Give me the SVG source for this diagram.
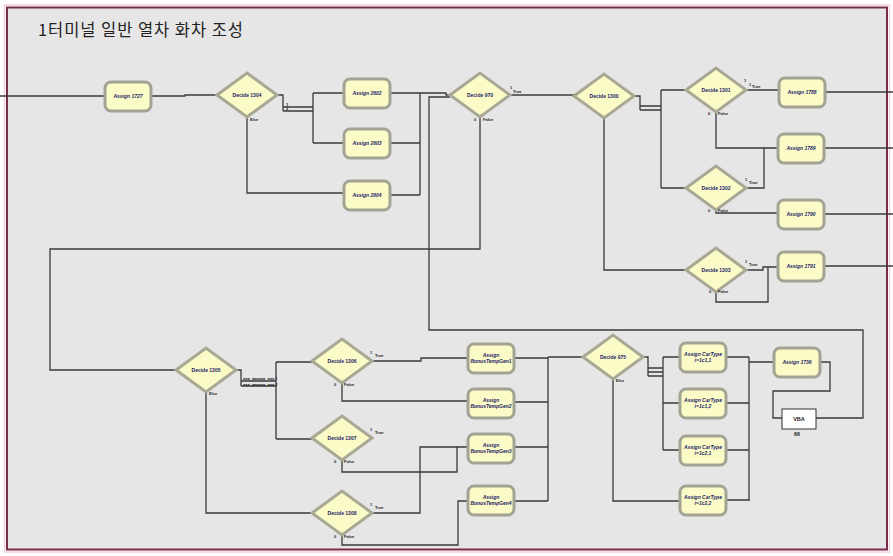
<svg xmlns="http://www.w3.org/2000/svg" width="893" height="556" viewBox="0 0 893 556">
<style>
.frame{fill:#e6e6e6;stroke:#7a2c4c;stroke-width:2}
.frame2{fill:none;stroke:#f2cfdc;stroke-width:1.5}
.title{font-family:"Noto Sans CJK KR","Noto Sans",sans-serif;font-size:16.5px;fill:#222}
.c{fill:none;stroke:#3a3a3a;stroke-width:1.3}
.as{fill:#fbfbc8;stroke:#a3a394;stroke-width:3}
.dc{fill:#fbfbc8;stroke:#a8a894;stroke-width:3;stroke-linejoin:miter}
.lbl{font-family:"Liberation Sans",Arial,sans-serif;font-size:5px;font-weight:bold;fill:#1c1c66;text-anchor:middle}
.ita{font-style:italic}
.sm{font-family:"Liberation Sans",Arial,sans-serif;font-size:4px;font-weight:bold;fill:#222}
.vba{fill:#ffffff;stroke:#333;stroke-width:1}
.vt{font-family:"Liberation Sans",Arial,sans-serif;font-size:5.5px;font-weight:bold;fill:#222;text-anchor:middle}
</style>
<rect x="0" y="0" width="893" height="556" fill="#ffffff"/>
<rect class="frame2" x="4.5" y="5" width="885" height="547"/>
<rect class="frame" x="7" y="7.5" width="880" height="542"/>
<text class="title" x="38" y="36" textLength="205" lengthAdjust="spacing">1터미널 일반 열차 화차 조성</text>

<g id="connectors">
<path class="c" d="M0 96 H105"/>
<path class="c" d="M151 96 H185 V95 H217"/>
<path class="c" d="M277 95 H283 V111 M283 107 H313 M283 111 H313 M313 93 V143 M313 93 H344 M313 143 H344"/>
<path class="c" d="M247 117 V193 H344"/>
<path class="c" d="M390 93 H420 M390 143 H420 M390 195 H420 M420 93 V195 M420 93 H446 V95 H450"/>
<path class="c" d="M510 95 H574"/>
<path class="c" d="M480 117 V249 H50 V370 H176"/>
<path class="c" d="M634 96 H640 V110 M640 106 H661 M640 110 H661 M661 90 V188 M661 90 H686 M661 188 H686"/>
<path class="c" d="M604 118 V270 H686"/>
<path class="c" d="M746 90 H779"/>
<path class="c" d="M716 112 V148 H778"/>
<path class="c" d="M746 188 H764 V148"/>
<path class="c" d="M716 210 V213 H778"/>
<path class="c" d="M746 270 H763 V267 H778"/>
<path class="c" d="M716 292 V302 H768 V267"/>
<path class="c" d="M825 92 H893 M824 148 H893 M824 214 H893 M824 266 H893"/>
<path class="c" d="M236 370 H241 V386 M241 381 H276 M241 386 H276 M276 362 V439 M276 362 H312 M276 439 H312"/>
<path class="c" d="M206 392 V513 H312"/>
<path class="c" d="M372 361 H421 V358 H468"/>
<path class="c" d="M342 383 V401 H468"/>
<path class="c" d="M342 460 V472 H457 V447 H468"/>
<path class="c" d="M372 513 H420 V447 H457"/>
<path class="c" d="M342 535 V545 H458 V501 H468"/>
<path class="c" d="M514 358 H548 M514 402 H548 M514 447 H548 M514 501 H548 M548 357 V501 M548 357 H583"/>
<path class="c" d="M643 357 H648 V376 M648 368 H663 M648 372 H663 M648 376 H663 M663 357 V450 M663 357 H680 M663 403 H680 M663 450 H680"/>
<path class="c" d="M613 379 V501 H680"/>
<path class="c" d="M726 357 H749 M726 403 H749 M726 450 H749 M726 500 H749 M749 357 V501 M749 362 H774"/>
<path class="c" d="M820 362 H830 V391 H773 V418 H782"/>
<path class="c" d="M816 418 H863 V330 H429 V97 H450"/>
</g>

<g id="Assign1727"><rect class="as" x="105" y="82" width="46" height="29" rx="6"/><text class="lbl ita" x="128" y="98">Assign 1727</text></g>
<g id="Decide1304"><polygon class="dc" points="217,95 247,73 277,95 247,117"/><text class="lbl" x="247" y="97">Decide 1304</text><text class="sm" x="286" y="106">1</text><text class="sm" x="286" y="110">2</text><text class="sm" x="250" y="121">Else</text></g>
<g id="Assign2602"><rect class="as" x="344" y="79" width="46" height="29" rx="6"/><text class="lbl ita" x="367" y="95">Assign 2602</text></g>
<g id="Assign2603"><rect class="as" x="344" y="129" width="46" height="29" rx="6"/><text class="lbl ita" x="367" y="145">Assign 2603</text></g>
<g id="Assign2604"><rect class="as" x="344" y="181" width="46" height="29" rx="6"/><text class="lbl ita" x="367" y="197">Assign 2604</text></g>
<g id="Decide970"><polygon class="dc" points="450,95 480,73 510,95 480,117"/><text class="lbl" x="480" y="97">Decide 970</text><text class="sm" x="510" y="89">1</text><text class="sm" x="513" y="93">True</text><text class="sm" x="474" y="121">0</text><text class="sm" x="483" y="121">False</text></g>
<g id="Decide1300"><polygon class="dc" points="574,96 604,74 634,96 604,118"/><text class="lbl" x="604" y="98">Decide 1300</text></g>
<g id="Decide1301"><polygon class="dc" points="686,90 716,68 746,90 716,112"/><text class="lbl" x="716" y="92">Decide 1301</text><text class="sm" x="744" y="82">1</text><text class="sm" x="749" y="86">1</text><text class="sm" x="752" y="88">True</text><text class="sm" x="708" y="115">0</text><text class="sm" x="718" y="115">False</text></g>
<g id="Assign1788"><rect class="as" x="779" y="78" width="46" height="29" rx="6"/><text class="lbl ita" x="802" y="94">Assign 1788</text></g>
<g id="Assign1789"><rect class="as" x="778" y="134" width="46" height="29" rx="6"/><text class="lbl ita" x="801" y="150">Assign 1789</text></g>
<g id="Decide1302"><polygon class="dc" points="686,188 716,166 746,188 716,210"/><text class="lbl" x="716" y="190">Decide 1302</text><text class="sm" x="745" y="181">1</text><text class="sm" x="749" y="184">True</text><text class="sm" x="708" y="212">0</text><text class="sm" x="718" y="212">False</text></g>
<g id="Assign1790"><rect class="as" x="778" y="200" width="46" height="29" rx="6"/><text class="lbl ita" x="801" y="216">Assign 1790</text></g>
<g id="Decide1303"><polygon class="dc" points="686,270 716,248 746,270 716,292"/><text class="lbl" x="716" y="272">Decide 1303</text><text class="sm" x="745" y="263">1</text><text class="sm" x="749" y="266">True</text><text class="sm" x="709" y="293">0</text><text class="sm" x="718" y="293">False</text></g>
<g id="Assign1791"><rect class="as" x="778" y="252" width="46" height="29" rx="6"/><text class="lbl ita" x="801" y="268">Assign 1791</text></g>
<g id="Decide1305"><polygon class="dc" points="176,370 206,348 236,370 206,392"/><text class="lbl" x="206" y="372">Decide 1305</text><text class="sm" x="243" y="380">aaa_aaaaaa_aaa 1</text><text class="sm" x="243" y="386">aaa_aaaaaa_aaa 2</text><text class="sm" x="209" y="395">Else</text></g>
<g id="Decide1306"><polygon class="dc" points="312,361 342,339 372,361 342,383"/><text class="lbl" x="342" y="363">Decide 1306</text><text class="sm" x="370" y="354">1</text><text class="sm" x="375" y="357">True</text><text class="sm" x="334" y="386">0</text><text class="sm" x="344" y="386">False</text></g>
<g id="Decide1307"><polygon class="dc" points="312,438 342,416 372,438 342,460"/><text class="lbl" x="342" y="440">Decide 1307</text><text class="sm" x="370" y="431">1</text><text class="sm" x="375" y="434">True</text><text class="sm" x="334" y="463">0</text><text class="sm" x="344" y="463">False</text></g>
<g id="Decide1308"><polygon class="dc" points="312,513 342,491 372,513 342,535"/><text class="lbl" x="342" y="515">Decide 1308</text><text class="sm" x="370" y="506">1</text><text class="sm" x="375" y="509">True</text><text class="sm" x="334" y="538">0</text><text class="sm" x="344" y="538">False</text></g>
<g id="AssignBonusTempGen1"><rect class="as" x="468" y="344" width="46" height="29" rx="6"/><text class="lbl ita" x="491" y="357">Assign</text><text class="lbl ita" x="491" y="363">BonusTempGen1</text></g>
<g id="AssignBonusTempGen2"><rect class="as" x="468" y="389" width="46" height="29" rx="6"/><text class="lbl ita" x="491" y="402">Assign</text><text class="lbl ita" x="491" y="408">BonusTempGen2</text></g>
<g id="AssignBonusTempGen3"><rect class="as" x="468" y="434" width="46" height="29" rx="6"/><text class="lbl ita" x="491" y="447">Assign</text><text class="lbl ita" x="491" y="453">BonusTempGen3</text></g>
<g id="AssignBonusTempGen4"><rect class="as" x="468" y="486" width="46" height="29" rx="6"/><text class="lbl ita" x="491" y="499">Assign</text><text class="lbl ita" x="491" y="505">BonusTempGen4</text></g>
<g id="Decide975"><polygon class="dc" points="583,357 613,335 643,357 613,379"/><text class="lbl" x="613" y="359">Decide 975</text><text class="sm" x="616" y="382">Else</text></g>
<g id="AssignCarType11"><rect class="as" x="680" y="343" width="46" height="29" rx="6"/><text class="lbl ita" x="703" y="356">Assign CarType</text><text class="lbl ita" x="703" y="362">i=1c1,1</text></g>
<g id="AssignCarType12"><rect class="as" x="680" y="389" width="46" height="29" rx="6"/><text class="lbl ita" x="703" y="402">Assign CarType</text><text class="lbl ita" x="703" y="408">i=1c1,2</text></g>
<g id="AssignCarType21"><rect class="as" x="680" y="436" width="46" height="29" rx="6"/><text class="lbl ita" x="703" y="449">Assign CarType</text><text class="lbl ita" x="703" y="455">i=1c2,1</text></g>
<g id="AssignCarType22"><rect class="as" x="680" y="486" width="46" height="29" rx="6"/><text class="lbl ita" x="703" y="499">Assign CarType</text><text class="lbl ita" x="703" y="505">i=1c2,2</text></g>
<g id="Assign1736"><rect class="as" x="774" y="348" width="46" height="29" rx="6"/><text class="lbl ita" x="797" y="364">Assign 1736</text></g>
<g id="VBA66"><rect class="vba" x="782" y="409" width="34" height="20"/><text class="vt" x="799" y="421">VBA</text><text class="vt" x="797" y="436">66</text></g>
</svg>
